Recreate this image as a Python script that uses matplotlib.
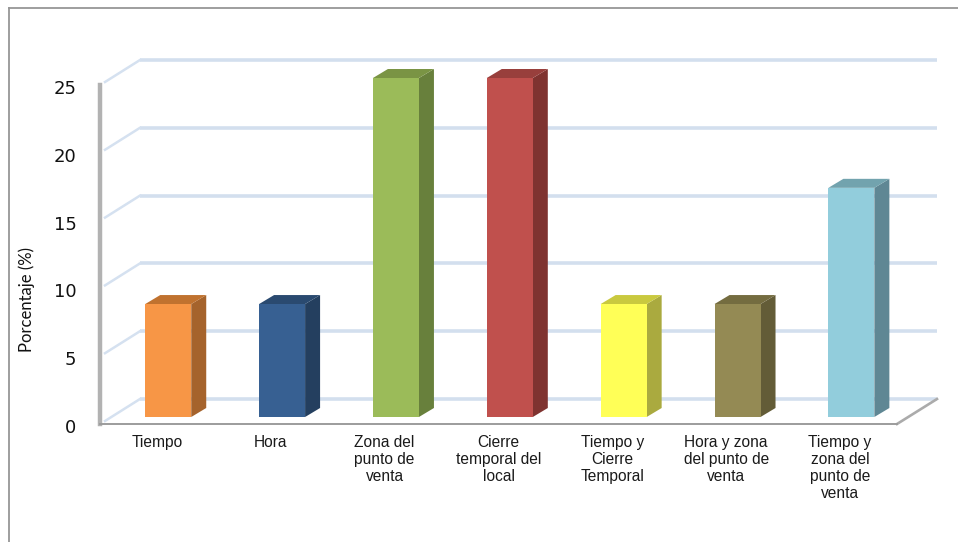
"""
Porcentaje por motivo - fake 3D column chart
"""

import matplotlib
matplotlib.use("Agg")
import matplotlib.pyplot as plt
from matplotlib.lines import Line2D
from matplotlib.transforms import ScaledTranslation

categories = [
    "Tiempo",
    "Hora",
    "Zona del\npunto de\nventa",
    "Cierre\ntemporal del\nlocal",
    "Tiempo y\nCierre\nTemporal",
    "Hora y zona\ndel punto de\nventa",
    "Tiempo y\nzona del\npunto de\nventa",
]
values = [8.33, 8.33, 25, 25, 8.33, 8.33, 16.9]
y_ticks = [0, 5, 10, 15, 20, 25]
front_colors = ["#f79646", "#376092", "#9bbb59", "#c0504d", "#ffff57", "#948a54", "#92cddc"]
side_colors = ["#a5632c", "#243f5f", "#68803c", "#7f3330", "#aaaa3f", "#635c37", "#5f8794"]
top_colors = ["#c0722f", "#2a4a70", "#7a9444", "#983f3c", "#c9c93f", "#746c40", "#72a3ae"]

W, H = 958, 542
fig = plt.figure(figsize=(W / 100, H / 100), dpi=100)

# axes box is the front plane of the chart, in pixels
left, right, top, bottom = 100, 897, 85, 424
ax = fig.add_axes([left / W, 1 - bottom / H, (right - left) / W, (bottom - top) / H])
ax.set_xlim(-0.5, 6.5)
ax.set_ylim(0, 25)

px = 7 / (right - left)      # data units per pixel, x
py = 25 / (bottom - top)     # data units per pixel, y

# back wall gridlines and the slanted part on the left wall
depth_x, depth_y = 40 * px, 25 * py
for t in y_ticks:
    ax.plot([-0.5 + depth_x, 6.5 + depth_x], [t + depth_y] * 2, color="#d3dfee",
            lw=2.6, clip_on=False, zorder=1, solid_capstyle="butt")
    ax.plot([-0.5 + 5 * px, -0.5 + depth_x], [t + 3 * py, t + depth_y], color="#d5e1f0",
            lw=1.8, clip_on=False, zorder=1)

# floor edge on the right
ax.plot([6.5, 6.5 + depth_x], [0, depth_y], color="#ababab", lw=1.9, clip_on=False, zorder=1)

# columns
bar_w = 46 * px
side_x, side_y = 15 * px, 9 * py
shift_x, shift_y = 11.3 * px, 7 * py
for i, v in enumerate(values):
    xr = i + shift_x + bar_w / 2
    xl = xr - bar_w
    y0 = shift_y
    y1 = v + shift_y
    ax.fill([xr, xr + side_x, xr + side_x, xr],
            [y0, y0 + side_y, y1 + side_y, y1],
            color=side_colors[i], lw=0, clip_on=False, zorder=3)
    ax.fill([xl, xl + side_x, xr + side_x, xr],
            [y1, y1 + side_y, y1 + side_y, y1],
            color=top_colors[i], lw=0, clip_on=False, zorder=3)
    ax.bar(i + shift_x, v, bottom=y0, width=bar_w, color=front_colors[i],
           lw=0, clip_on=False, zorder=4)

ax.set_xticks(range(len(categories)))
ax.set_xticklabels(categories, fontsize=11.2, family="Liberation Sans", color="#1a1a1a",
                   linespacing=1.16)
ax.set_yticks(y_ticks)
ax.set_yticklabels([str(t) for t in y_ticks], fontsize=13, family="DejaVu Sans", color="#111111",
                   va="center")
ax.tick_params(axis="x", length=0, pad=8)
ax.tick_params(axis="y", length=0, pad=17)

# the numbers sit a little under their ticks in the original
nudge = ScaledTranslation(0, -4 / 100, fig.dpi_scale_trans)
for lab in ax.get_yticklabels():
    lab.set_transform(lab.get_transform() + nudge)

for name in ["top", "right"]:
    ax.spines[name].set_visible(False)
ax.spines["left"].set_color("#b2b2b2")
ax.spines["left"].set_linewidth(3.2)
ax.spines["bottom"].set_color("#9c9c9c")
ax.spines["bottom"].set_linewidth(1.4)

fig.text(27 / W, 1 - 300 / H, "Porcentaje (%)", rotation=90, ha="center", va="center",
         fontsize=12, family="Lato", color="#111111")

# outer frame, left and top only (cropped from a bigger picture)
fig.add_artist(Line2D([9 / W, 9 / W], [0, 1 - 8 / H], color="#969696", lw=1.3))
fig.add_artist(Line2D([9 / W, 1], [1 - 8 / H, 1 - 8 / H], color="#969696", lw=1.3))

fig.savefig("out.png", dpi=100)
